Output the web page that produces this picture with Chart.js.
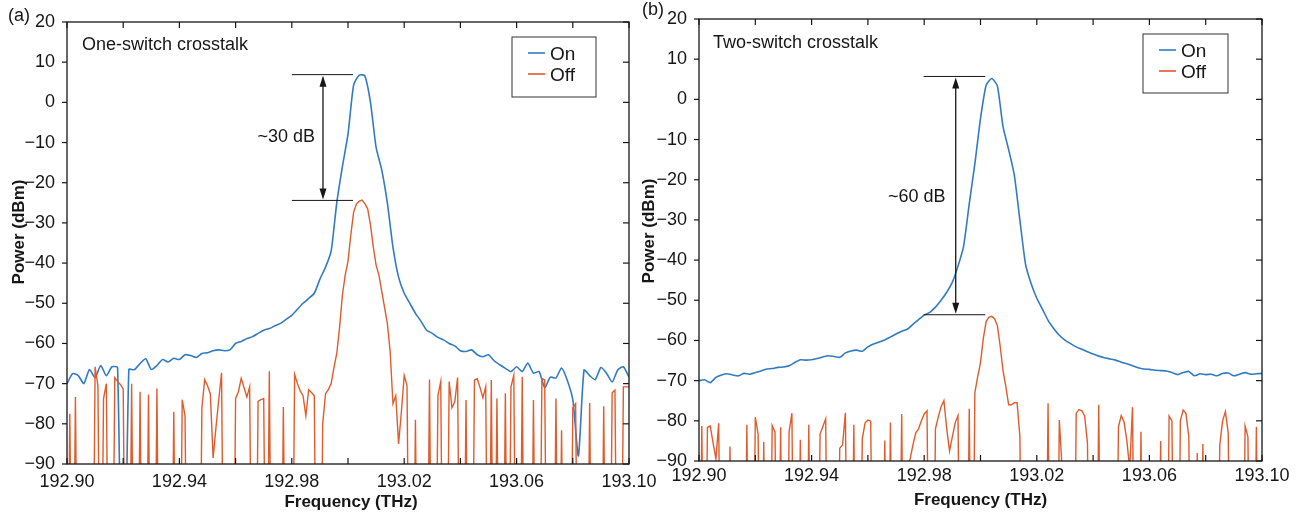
<!DOCTYPE html>
<html lang="en">
<head>
<meta charset="UTF-8">
<title>One- and two-switch crosstalk spectra</title>
<script src="https://cdn.jsdelivr.net/npm/chart.js"></script>
<style>
  html, body { margin: 0; padding: 0; background: #fff; }
  body { width: 1297px; height: 515px; position: relative; overflow: hidden; }
  .panel { position: absolute; top: 0; height: 515px; }
  #panelA { left: 0; width: 665px; }
  #panelB { left: 640px; width: 657px; }
</style>
</head>
<body>
<div class="panel" id="panelA"><canvas id="chartA" width="665" height="515"></canvas></div>
<div class="panel" id="panelB"><canvas id="chartB" width="657" height="515"></canvas></div>
<script>
const FONT = "'Liberation Sans', Arial, sans-serif";
const INK = '#161616';
const ON_COLOR = '#317bc2';
const OFF_COLOR = '#e05c2c';

// frequency axis (THz) and power axis (dBm)
const FREQ_MIN = 192.90;
const FREQ_MAX = 193.10;
const FREQ_TICK = 0.02;
const POWER_MIN = -90;
const POWER_MAX = 20;
const POWER_TICK = 10;

// On traces sampled every 2 GHz, Off traces every 1 GHz
const ON_STEP = 0.002;
const OFF_STEP = 0.001;
const F = -150; // reading below the analyser floor (off the bottom of the plot)

const seriesNames = ['On', 'Off'];

const oneSwitchOn = [
  -70, -67.5, -68, -70, -66.5, -68.5, -65.5, -68, -65.8, -66,
  F, -66.5, -66.5, -65, -63.8, -66.5, -65.5, -64, -64.6, -63.7,
  -64, -62.8, -63, -63.5, -62.5, -62.3, -61.8, -61.6, -61.8, -61.6,
  -60, -59.5, -58.8, -58.3, -57.5, -56.7, -56.3, -55.6, -55, -54,
  -53, -51.5, -50, -48.8, -47.5, -44, -41, -37, -25, -16,
  -7.9, 4.3, 6.8, 6.6, 0, -11.2, -16.8, -25, -36, -43.5,
  -47.5, -50, -52.5, -54.5, -56.7, -57.5, -58.5, -59.1, -60, -60.6,
  -61.8, -62, -61.6, -62.8, -63.3, -62.8, -64.3, -65.3, -66.2, -67,
  -65.8, -67, -64.9, -67.4, -67, -71, -68.4, -68.6, -66.1, -69.1,
  -74, -88, -66.6, -68, -69, -66, -67.4, -69.6, -66.6, -65.8,
  -68.4
];

const oneSwitchOff = [
  F, -77.5, F, -73.3, F, F, F, F, F, F,
  -65.8, -70.5, F, -73.7, -70, F, F, -68.5, -69.5, -70.2,
  -71.3, F, F, -70, F, F, -72, F, F, -72.7,
  F, F, -71.2, F, F, F, F, F, -77, F,
  F, -74, -78, F, F, F, F, F, -76, -69,
  -70.5, -72.5, -88.5, -81, -74, -67.3, F, F, F, F,
  -73.7, -72, -68.7, -71, -73.3, -70.8, F, F, -74.4, -74,
  -73.7, F, -66.9, F, F, F, F, -75.8, F, F,
  F, -67.7, -70, -71.8, -73, -78, -71.5, -72.2, -73, F,
  F, -80, -72.5, -71.5, -70, -66, -62.5, -56, -48, -43,
  -39.5, -33, -27.3, -25.3, -24.6, -24.3, -25.2, -26.5, -30.5, -36,
  -40.5, -43, -47, -51, -55, -62, -75, -73, -85, -77,
  -68, -70.5, F, F, -79, F, F, F, F, -69,
  F, F, -73, -69.5, F, F, -69.5, -76, -74.5, -68.5,
  F, F, -74.1, F, F, -69.1, -68.8, -71, -73.5, -70.8,
  F, -69.1, F, -73.7, F, F, -72.4, F, -70.8, -67.9,
  F, F, -68.3, F, F, F, -74.1, F, F, -68.7,
  -69.1, F, F, F, -73.7, F, -81.6, F, F, F,
  -76, -75, F, F, F, F, -74.8, F, F, F,
  F, -75.6, F, F, -72.3, -71.6, F, F, -70.8, -70.8,
  -70.8
];

const twoSwitchOn = [
  -70, -69.8, -70.5, -69.2, -68.6, -68.3, -68.6, -68.8, -68.2, -68.4,
  -68, -67.6, -67.1, -67, -66.7, -66.6, -66.3, -65.5, -64.8, -64.9,
  -64.8, -64.5, -64.1, -63.8, -64, -64.2, -63.1, -62.6, -62.4, -62.7,
  -61.6, -60.9, -60.4, -59.9, -59.1, -58.4, -57.7, -57.2, -56, -54.8,
  -53.7, -53, -51.7, -50, -48, -45.5, -41.5, -36.5, -26, -16,
  -4.8, 3.5, 5.2, 3.3, -6.8, -12.5, -18.8, -30.1, -41, -45.9,
  -49.5, -52.2, -55, -57, -58.7, -59.9, -60.8, -61.6, -62.2, -62.8,
  -63.4, -63.9, -64.3, -64.6, -64.9, -65.4, -65.8, -66.3, -66.8, -67.1,
  -67.2, -67.4, -67.5, -67.6, -68, -68.5, -68, -67.7, -68.8, -68.3,
  -68.5, -68.4, -68.8, -68.2, -68.1, -68.8, -68.4, -68, -68.4, -68.3,
  -68.2
];

const twoSwitchOff = [
  F, -81.3, F, -81.6, -81.3, -85.5, -89.5, -80.6, F, F,
  F, -86.4, F, F, F, F, F, -81, F, F,
  -79.1, -83.3, F, -85.2, F, F, -81.2, -82.8, F, -81.6,
  F, F, -82.8, -78.1, F, F, -84.7, F, F, -81,
  F, F, F, -83.3, -81.4, -79.5, F, F, F, F,
  -86.8, -86, -78, F, F, -81, F, F, -84.5, -80.5,
  -79.8, -80.1, F, F, F, F, -84.9, F, -80.4, F,
  F, F, -78.3, F, -91, -89.5, -86, -83, -82, -80,
  -78.3, -77.5, F, F, -82, -79, -76.5, -75, -82, -87.5,
  -84, -80.5, -78.7, F, F, F, -77, F, -73, -69,
  -65.5, -59.5, -55.3, -54.2, -54, -54.6, -56.3, -61.5, -67.5, -71.5,
  -76, -76, -75.5, -75.5, -84, F, F, F, F, F,
  F, F, F, F, -75.6, F, F, F, -79.8, -92,
  F, F, F, F, -78.1, -77.2, -77.5, -78.8, -85.6, F,
  F, F, -76, F, F, F, F, F, F, -81.5,
  -78.7, -80.3, -85, -92, -76.6, F, F, -82.7, F, F,
  F, F, F, F, -85, F, F, -78.8, -80, F,
  F, -80, -77.3, -78.2, -84, F, F, -88, F, -85.8,
  F, F, F, F, F, -86, -80, -77.7, -83, F,
  F, F, F, F, -81.3, -84, F, F, -81.5, F,
  F
];

const minus = v => String(v).replace('-', '\u2212');

// frame, inward ticks, span arrow, legend box and the text around the plot
const framePlugin = {
  id: 'frame',
  afterDatasetsDraw(chart, args, o) {
    const { ctx, chartArea: a, scales: { x, y } } = chart;
    const seg = (x1, y1, x2, y2) => { ctx.beginPath(); ctx.moveTo(x1, y1); ctx.lineTo(x2, y2); ctx.stroke(); };
    const head = (px, tip, dir) => {
      ctx.beginPath();
      ctx.moveTo(px, tip);
      ctx.lineTo(px - 3.5, tip + dir * 11);
      ctx.lineTo(px + 3.5, tip + dir * 11);
      ctx.closePath();
      ctx.fill();
    };
    ctx.save();
    ctx.strokeStyle = INK;
    ctx.fillStyle = INK;

    // crosstalk span
    const s = o.span;
    const xl = x.getPixelForValue(s.from), xr = x.getPixelForValue(s.to);
    const xa = x.getPixelForValue(s.at);
    const yt = y.getPixelForValue(s.top), yb = y.getPixelForValue(s.bottom);
    ctx.lineWidth = 1;
    seg(xl, yt, xr, yt);
    seg(xl, yb, xr, yb);
    ctx.lineWidth = 1.3;
    seg(xa, yt + 8, xa, yb - 8);
    head(xa, yt + 1, 1);
    head(xa, yb - 1, -1);
    ctx.font = `18px ${FONT}`;
    ctx.textAlign = 'right';
    ctx.textBaseline = 'alphabetic';
    ctx.fillText(s.text, x.getPixelForValue(s.textAt), y.getPixelForValue(s.textY));

    // box and ticks
    ctx.lineWidth = 1.3;
    ctx.strokeRect(a.left, a.top, a.width, a.height);
    ctx.lineWidth = 1.2;
    y.ticks.forEach(t => {
      const py = y.getPixelForValue(t.value);
      seg(a.left - 5, py, a.left, py);
      seg(a.right - 6, py, a.right, py);
    });
    x.ticks.forEach(t => {
      const px = x.getPixelForValue(t.value);
      seg(px, a.top, px, a.top + 6);
      seg(px, a.bottom - 6, px, a.bottom);
    });

    // legend
    const L = o.legend;
    const bx = a.right - L.right - L.width, by = a.top + L.top;
    ctx.lineWidth = 1;
    ctx.strokeStyle = '#333';
    ctx.strokeRect(bx, by, L.width, L.height);
    ctx.font = `19px ${FONT}`;
    ctx.textAlign = 'left';
    chart.data.datasets.forEach((ds, i) => {
      const ry = by + L.rows[i];
      ctx.strokeStyle = ds.borderColor;
      ctx.lineWidth = 1.6;
      seg(bx + 16, ry, bx + 33, ry);
      ctx.fillText(ds.label, bx + 38, ry + 7);
    });

    // panel texts
    ctx.font = `18px ${FONT}`;
    ctx.fillText(o.title, a.left + o.titleAt[0], o.titleAt[1]);
    ctx.fillText(o.letter, o.letterAt[0], o.letterAt[1]);

    ctx.font = `bold 17px ${FONT}`;
    ctx.textAlign = 'center';
    ctx.fillText('Frequency (THz)', (a.left + a.right) / 2 + o.xTitleShift, o.xTitleBase);
    ctx.save();
    ctx.translate(o.yTitleAt[0], (a.top + a.bottom) / 2 + o.yTitleAt[1]);
    ctx.rotate(-Math.PI / 2);
    ctx.textBaseline = 'middle';
    ctx.fillText('Power (dBm)', 0, 0);
    ctx.restore();
    ctx.restore();
  }
};

function makePanel(canvasId, onValues, offValues, look) {
  const onPoints = onValues.map((v, i) => ({ x: FREQ_MIN + i * ON_STEP, y: v }));
  const offPoints = offValues.map((v, i) => ({ x: FREQ_MIN + i * OFF_STEP, y: v }));
  return new Chart(document.getElementById(canvasId), {
    type: 'line',
    data: {
      datasets: [
        { label: seriesNames[0], data: onPoints, borderColor: ON_COLOR, borderWidth: 1.6,
          pointRadius: 0, tension: 0.2, order: 1 },
        { label: seriesNames[1], data: offPoints, borderColor: OFF_COLOR, borderWidth: 1.4,
          pointRadius: 0, tension: 0, order: 0 }
      ]
    },
    options: {
      responsive: false,
      animation: false,
      devicePixelRatio: 1,
      events: [],
      layout: { padding: { left: 0, top: look.top, right: look.right, bottom: 0 } },
      plugins: {
        legend: { display: false },
        tooltip: { enabled: false },
        frame: look
      },
      scales: {
        x: {
          type: 'linear',
          min: FREQ_MIN,
          max: FREQ_MAX,
          grid: { display: false },
          border: { display: false },
          ticks: {
            stepSize: FREQ_TICK,
            autoSkip: false,
            maxRotation: 0,
            padding: look.xPad,
            color: INK,
            font: { family: FONT, size: 18 },
            callback: v => Math.round((v - FREQ_MIN) / FREQ_TICK) % 2 === 0 ? v.toFixed(2) : ''
          },
          afterFit: sc => { sc.height = look.xHeight; sc.paddingLeft = 0; sc.paddingRight = 0; }
        },
        y: {
          min: POWER_MIN,
          max: POWER_MAX,
          grid: { display: false },
          border: { display: false },
          ticks: {
            stepSize: POWER_TICK,
            padding: 4,
            color: INK,
            font: { family: FONT, size: 18 },
            callback: v => minus(v)
          },
          afterFit: sc => { sc.width = look.yWidth; sc.paddingTop = 0; sc.paddingBottom = 0; }
        }
      }
    },
    plugins: [framePlugin]
  });
}

makePanel('chartA', oneSwitchOn, oneSwitchOff, {
  top: 22, right: 36, yWidth: 67, xHeight: 51, xPad: -1,
  letter: '(a)', letterAt: [8, 21],
  title: 'One-switch crosstalk', titleAt: [15, 50],
  xTitleShift: 3, xTitleBase: 507,
  yTitleAt: [19.5, -11],
  legend: { right: 33, top: 15, width: 84, height: 60, rows: [16, 37] },
  span: { from: 192.980, to: 193.0018, at: 192.9911, top: 6.9, bottom: -24.4,
          text: '~30 dB', textAt: 192.9883, textY: -9.8 }
});

makePanel('chartB', twoSwitchOn, twoSwitchOff, {
  top: 19, right: 35, yWidth: 59, xHeight: 54, xPad: -4,
  letter: '(b)', letterAt: [2, 15],
  title: 'Two-switch crosstalk', titleAt: [14, 48],
  xTitleShift: 0, xTitleBase: 505,
  yTitleAt: [9.5, -9],
  legend: { right: 34, top: 15, width: 85, height: 59, rows: [16, 37] },
  span: { from: 192.9798, to: 193.0017, at: 192.9912, top: 5.7, bottom: -53.6,
          text: '~60 dB', textAt: 192.9876, textY: -25.5 }
});
</script>
</body>
</html>
